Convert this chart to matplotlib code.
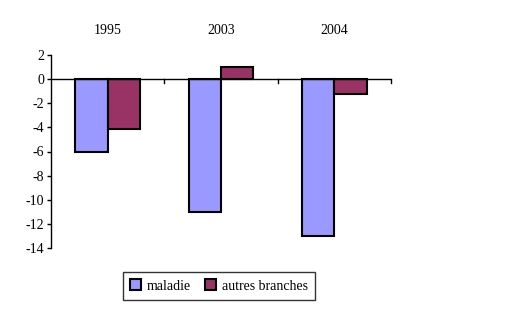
import numpy as np
import matplotlib.pyplot as plt
import matplotlib.transforms as mtransforms

# data
years = ['1995', '2003', '2004']
maladie = [-6, -11, -13]
autres = [-4.1, 1, -1.25]

plt.rcParams['font.family'] = ['Liberation Serif', 'DejaVu Serif']
plt.rcParams['font.size'] = 10
plt.rcParams['axes.unicode_minus'] = False

fig = plt.figure(figsize=(5.29, 3.10), dpi=100)
ax = fig.add_axes([51/529, 1 - 248/310, 340/529, 193/310])

x = np.arange(len(years))
w = 1 / 3.5
ax.bar(x - w/2, maladie, w, color='#9999FF', edgecolor='black', linewidth=1.5, label='maladie')
ax.bar(x + w/2, autres, w, color='#993366', edgecolor='black', linewidth=1.5, label='autres branches')

ax.set_xlim(-0.5, 2.5)
ax.set_ylim(-14, 2)
ax.set_yticks(range(-14, 3, 2))
ax.tick_params(axis='y', length=3, width=1, pad=2)

for s in ['top', 'right', 'bottom']:
    ax.spines[s].set_visible(False)
ax.spines['left'].set_linewidth(1)

# zero line with category ticks
ax.axhline(0, color='black', linewidth=1, zorder=1)
ax.set_xticks([])
for b in [0.5, 1.5, 2.5]:
    ax.plot([b, b], [0, -0.33], color='black', linewidth=1, clip_on=False)

# category labels above the plot
trans = mtransforms.blended_transform_factory(ax.transData, fig.transFigure)
for xi, yr in zip(x, years):
    ax.text(xi, 1 - 31/310, yr, transform=trans, ha='center', va='center')

leg = fig.legend(loc='center', bbox_to_anchor=(219/529, 1 - 286/310), ncol=2,
                 frameon=True, fancybox=False, edgecolor='black', handlelength=0.8,
                 handleheight=0.8, handletextpad=0.4, columnspacing=1.0, borderpad=0.55)
leg.get_frame().set_linewidth(1)

fig.savefig('out.png', dpi=100)
